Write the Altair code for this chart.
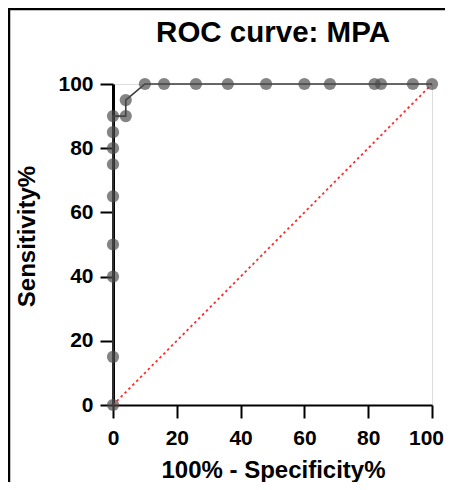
import altair as alt
import pandas as pd

# ROC points (100% - Specificity%, Sensitivity%)
fpr = [0, 0, 0, 0, 0, 0, 0, 0, 0, 4, 4, 10, 16, 26, 36, 48, 60, 68, 82, 84, 94, 100]
tpr = [0, 15, 40, 50, 65, 75, 80, 85, 90, 90, 95, 100, 100, 100, 100, 100, 100, 100, 100, 100, 100, 100]
diag_x = [0, 100]
diag_y = [0, 100]
ticks = [0, 20, 40, 60, 80, 100]
title_text = ["ROC curve: MPA"]

roc = pd.DataFrame({"fpr": fpr, "tpr": tpr, "order": list(range(len(fpr)))})
diag = pd.DataFrame({"fpr": diag_x, "tpr": diag_y, "order": [0, 1]})
ttl = pd.DataFrame({"t": title_text})

FONT = "Liberation Sans"
W, H = 319, 321

xscale = alt.Scale(domain=[0, 100], nice=False, zero=False)
yscale = alt.Scale(domain=[0, 100], nice=False, zero=False)

xaxis = alt.Axis(values=ticks, grid=False, domainColor="black", domainWidth=2,
                 tickColor="black", tickWidth=2, tickSize=13,
                 labelFont=FONT, labelFontSize=21, labelFontWeight="bold", labelColor="black",
                 labelPadding=9, labelFlush=False,
                 labelOffset={"condition": {"test": "datum.value == 100", "value": -6}, "value": 0},
                 title="100% - Specificity%", titleFont=FONT, titleFontSize=24,
                 titleFontWeight="bold", titleColor="black",
                 titleX=160, titleY=72, titleBaseline="alphabetic", titleAlign="center")
yaxis = alt.Axis(values=ticks, grid=False, domainColor="black", domainWidth=3,
                 tickColor="black", tickWidth=2, tickSize=13,
                 labelFont=FONT, labelFontSize=21, labelFontWeight="bold", labelColor="black",
                 labelPadding=7, labelFlush=False,
                 title="Sensitivity%", titleFont=FONT, titleFontSize=24,
                 titleFontWeight="bold", titleColor="black",
                 titleX=-79, titleY=152, titleBaseline="alphabetic", titleAlign="center",
                 titleAngle=270)

base_x = alt.X("fpr:Q", scale=xscale, axis=xaxis)
base_y = alt.Y("tpr:Q", scale=yscale, axis=yaxis)

diag_line = alt.Chart(diag).mark_line(
    color="#ff2a2a", strokeWidth=1.8, strokeDash=[2.5, 3]
).encode(x=base_x, y=base_y, order="order:Q")

roc_line = alt.Chart(roc).mark_line(color="#3a3a3a", strokeWidth=1.6).encode(
    x=base_x, y=base_y, order="order:Q")

roc_pts = alt.Chart(roc).mark_circle(size=150, color="#4a4a4a", opacity=0.68).encode(
    x=base_x, y=base_y)

title_mark = alt.Chart(ttl).mark_text(
    font=FONT, fontSize=29.5, fontWeight="bold", color="black",
    align="center", baseline="alphabetic"
).encode(text="t:N", x=alt.value(160), y=alt.value(-42.5))

# decorative frame (left and top edges of the figure box)
frame_left = alt.Chart(ttl).mark_rule(color="black", strokeWidth=2.5).encode(
    x=alt.value(-104), y=alt.value(-76), y2=alt.value(400))
frame_top = alt.Chart(ttl).mark_rule(color="black", strokeWidth=2.5).encode(
    x=alt.value(-106), x2=alt.value(340), y=alt.value(-75))

chart = alt.layer(frame_left, frame_top, diag_line, roc_line, roc_pts, title_mark).properties(
    width=W, height=H,
    padding={"left": 105, "top": 76, "right": 13, "bottom": 77},
    autosize=alt.AutoSizeParams(type="none"),
).configure_view(stroke=None).configure(background="white")

chart.save("out.html", embed_options={"renderer": "svg", "actions": False})
